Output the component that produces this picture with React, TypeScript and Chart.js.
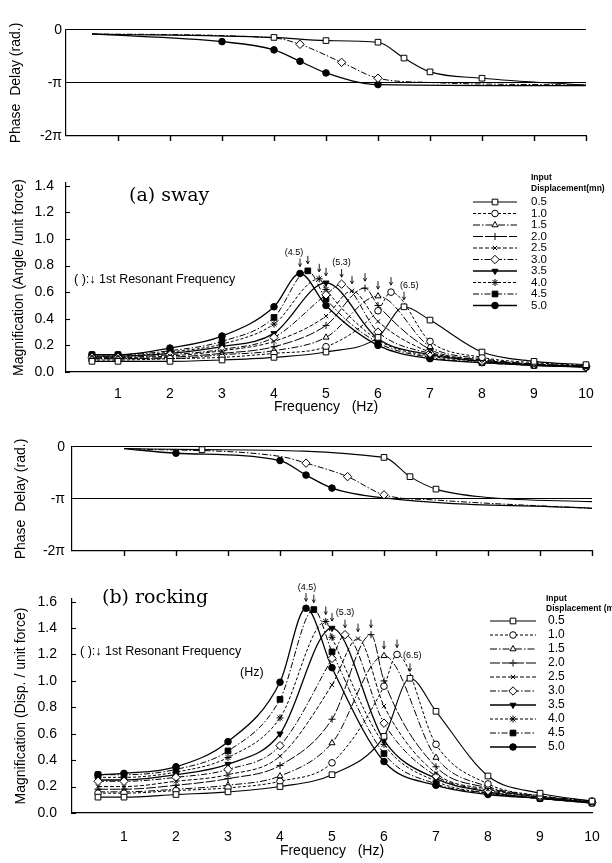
import React, { useEffect, useRef } from 'react';
import { Chart, registerables } from 'chart.js';
import { drawPoint } from 'chart.js/helpers';

Chart.register(...registerables);

const FONT = "'Liberation Sans', 'DejaVu Sans', Arial, sans-serif";
Chart.defaults.font.family = FONT;
Chart.defaults.color = '#000';

// ---------------- data ----------------
const freqGrid = [0.5, 1, 2, 3, 4, 5, 6, 7, 8, 9, 10];
const freqTicks = [1, 2, 3, 4, 5, 6, 7, 8, 9, 10];
const inputDisp = ['0.5', '1.0', '1.5', '2.0', '2.5', '3.0', '3.5', '4.0', '4.5', '5.0'];
const swayMagTicks = [0, 0.2, 0.4, 0.6, 0.8, 1.0, 1.2, 1.4];
const rockMagTicks = [0, 0.2, 0.4, 0.6, 0.8, 1.0, 1.2, 1.4, 1.6];
const phaseTicks = [0, -1, -2];
const phaseTickLabels = ['0', '-π', '-2π'];

// (a) sway magnification, values on freqGrid
const swayMag05 = [0.08, 0.08, 0.08, 0.09, 0.11, 0.15, 0.26, 0.39, 0.15, 0.08, 0.055];
const swayMag10 = [0.09, 0.09, 0.10, 0.11, 0.14, 0.19, 0.46, 0.23, 0.11, 0.07, 0.05];
const swayMag15 = [0.10, 0.10, 0.10, 0.13, 0.16, 0.26, 0.57, 0.19, 0.10, 0.06, 0.045];
const swayMag20 = [0.10, 0.10, 0.11, 0.14, 0.19, 0.35, 0.50, 0.17, 0.09, 0.06, 0.045];
const swayMag25 = [0.11, 0.11, 0.12, 0.16, 0.23, 0.42, 0.38, 0.15, 0.09, 0.055, 0.04];
const swayMag30 = [0.11, 0.11, 0.13, 0.17, 0.26, 0.58, 0.30, 0.14, 0.08, 0.055, 0.04];
const swayMag35 = [0.12, 0.12, 0.14, 0.19, 0.29, 0.67, 0.25, 0.13, 0.08, 0.05, 0.04];
const swayMag40 = [0.12, 0.12, 0.15, 0.21, 0.36, 0.62, 0.24, 0.12, 0.08, 0.05, 0.04];
const swayMag45 = [0.13, 0.13, 0.16, 0.23, 0.41, 0.55, 0.22, 0.11, 0.07, 0.05, 0.04];
const swayMag50 = [0.13, 0.13, 0.18, 0.27, 0.49, 0.50, 0.20, 0.10, 0.07, 0.05, 0.035];
const swayPeakFreq = [6.5, 6.25, 6.0, 5.75, 5.5, 5.3, 5.0, 4.87, 4.65, 4.5];
const swayPeakMag = [0.49, 0.60, 0.57, 0.63, 0.61, 0.66, 0.67, 0.70, 0.76, 0.74];

// (b) rocking magnification, values on freqGrid
const rockMag05 = [0.12, 0.12, 0.14, 0.16, 0.20, 0.29, 0.58, 0.77, 0.28, 0.15, 0.09];
const rockMag10 = [0.15, 0.15, 0.17, 0.19, 0.24, 0.38, 0.96, 0.52, 0.22, 0.13, 0.09];
const rockMag15 = [0.16, 0.16, 0.18, 0.21, 0.28, 0.53, 1.19, 0.42, 0.20, 0.13, 0.09];
const rockMag20 = [0.18, 0.18, 0.21, 0.26, 0.36, 0.71, 1.00, 0.35, 0.19, 0.12, 0.085];
const rockMag25 = [0.20, 0.20, 0.24, 0.29, 0.43, 0.97, 0.81, 0.30, 0.18, 0.12, 0.08];
const rockMag30 = [0.24, 0.24, 0.27, 0.33, 0.51, 1.17, 0.68, 0.28, 0.17, 0.12, 0.08];
const rockMag35 = [0.25, 0.25, 0.29, 0.37, 0.60, 1.40, 0.55, 0.26, 0.16, 0.11, 0.08];
const rockMag40 = [0.27, 0.27, 0.31, 0.42, 0.72, 1.33, 0.52, 0.24, 0.15, 0.11, 0.08];
const rockMag45 = [0.29, 0.29, 0.33, 0.47, 0.86, 1.22, 0.45, 0.22, 0.15, 0.11, 0.075];
const rockMag50 = [0.29, 0.30, 0.35, 0.54, 0.99, 1.10, 0.39, 0.21, 0.14, 0.11, 0.075];
const rockPeakFreq = [6.5, 6.25, 6.0, 5.75, 5.5, 5.25, 5.0, 4.88, 4.65, 4.5];
const rockPeakMag = [1.02, 1.20, 1.19, 1.35, 1.32, 1.35, 1.40, 1.45, 1.54, 1.55];

// phase delay (in units of pi), measured = marker drawn
const swayPhaseFreq05 = [0.5, 4, 5, 6, 6.5, 7, 8, 10];
const swayPhase05 = [-0.075, -0.14, -0.2, -0.23, -0.53, -0.79, -0.91, -1.04];
const swayPhaseMeasured05 = [0, 1, 1, 1, 1, 1, 1, 0];
const swayPhaseFreq30 = [0.5, 4, 4.5, 5.3, 6, 7, 10];
const swayPhase30 = [-0.075, -0.15, -0.27, -0.61, -0.91, -0.99, -1.04];
const swayPhaseMeasured30 = [0, 0, 1, 1, 1, 0, 0];
const swayPhaseFreq50 = [0.5, 3, 4, 4.5, 5, 6, 10];
const swayPhase50 = [-0.075, -0.22, -0.375, -0.59, -0.81, -1.03, -1.05];
const swayPhaseMeasured50 = [0, 1, 1, 1, 1, 1, 0];

const rockPhaseFreq05 = [1, 2.5, 6, 6.5, 7, 8, 10];
const rockPhase05 = [-0.03, -0.05, -0.2, -0.57, -0.81, -0.97, -1.05];
const rockPhaseMeasured05 = [0, 1, 1, 1, 1, 0, 0];
const rockPhaseFreq30 = [1, 4, 4.5, 5.3, 6, 7, 10];
const rockPhase30 = [-0.03, -0.18, -0.31, -0.57, -0.92, -1.02, -1.18];
const rockPhaseMeasured30 = [0, 0, 1, 1, 1, 0, 0];
const rockPhaseFreq50 = [1, 2, 4, 4.5, 5, 6, 10];
const rockPhase50 = [-0.03, -0.12, -0.26, -0.54, -0.79, -0.98, -1.18];
const rockPhaseMeasured50 = [0, 1, 1, 1, 1, 0, 0];

// ---------------- styles ----------------
const seriesPointStyle = ['rect', 'circle', 'triangle', 'cross', 'crossRot', 'rectRot', 'triangle', 'star', 'rect', 'circle'];
const seriesRotation = [0, 0, 0, 0, 0, 0, 180, 0, 0, 0];
const seriesFilled = [false, false, false, false, false, false, true, true, true, true];
const seriesDash: number[][] = [[], [3, 2], [7, 2, 1.5, 2], [10, 2], [4, 2], [6, 2, 1.5, 2], [], [3, 2], [6, 2, 1.5, 2], []];
const seriesWidth = [1.1, 1, 1, 1, 1, 1, 1.3, 1, 1, 1.3];
const seriesRadius = [4, 3.3, 3.5, 3.5, 3, 4.2, 3.5, 3.5, 4, 3.3];

const W = 612;

function seriesStyle(i: number, mask: number[] | null) {
  return {
    borderColor: '#000',
    backgroundColor: '#000',
    borderWidth: seriesWidth[i],
    borderDash: seriesDash[i],
    pointStyle: seriesPointStyle[i],
    pointRotation: seriesRotation[i],
    pointRadius: mask ? (c: any) => (mask[c.dataIndex] ? seriesRadius[i] : 0) : seriesRadius[i],
    pointHoverRadius: 0,
    pointBackgroundColor: seriesFilled[i] ? '#000' : '#fff',
    pointBorderColor: '#000',
    pointBorderWidth: 1,
    cubicInterpolationMode: 'monotone',
    fill: false,
    clip: false,
  };
}

function buildMag(series: number[][], peakF: number[], peakV: number[]) {
  return series.map((vals, i) => {
    const pts = freqGrid.map((f, j) => ({ x: f, y: vals[j] }));
    const k = pts.findIndex((p) => p.x === peakF[i]);
    if (k >= 0) pts[k] = { x: peakF[i], y: peakV[i] };
    else {
      pts.push({ x: peakF[i], y: peakV[i] });
      pts.sort((a, b) => a.x - b.x);
    }
    return { label: inputDisp[i], data: pts, ...seriesStyle(i, null) };
  });
}

function buildPhase(list: { idx: number; f: number[]; v: number[]; m: number[] }[]) {
  return list.map((s) => ({
    label: inputDisp[s.idx],
    data: s.f.map((f, j) => ({ x: f, y: s.v[j] })),
    ...seriesStyle(s.idx, s.m),
  }));
}

function makeDecor(o: any) {
  return {
    id: 'decor',
    afterDraw(chart: any) {
      const ctx = chart.ctx;
      const ca = chart.chartArea;
      ctx.save();
      ctx.fillStyle = '#000';
      ctx.strokeStyle = '#000';
      ctx.setLineDash([]);
      if (o.innerYTicks) {
        const ys = chart.scales.y;
        ctx.lineWidth = 1.1;
        for (const t of ys.ticks) {
          const py = Math.round(ys.getPixelForValue(t.value)) + 0.5;
          ctx.beginPath();
          ctx.moveTo(ca.left, py);
          ctx.lineTo(ca.left + 4, py);
          ctx.stroke();
        }
      }
      if (o.bottomTicks) {
        const xs = chart.scales.x;
        ctx.lineWidth = 1.4;
        freqTicks.forEach((v) => {
          const px = Math.round(xs.getPixelForValue(v)) + 0.5;
          ctx.beginPath();
          ctx.moveTo(px, ca.bottom);
          ctx.lineTo(px, ca.bottom + 5);
          ctx.stroke();
        });
      }
      const peakPt = (i: number) => {
        const d = chart.data.datasets[i].data;
        let k = 0;
        d.forEach((p: any, j: number) => {
          if (p.y > d[k].y) k = j;
        });
        return chart.getDatasetMeta(i).data[k];
      };
      if (o.arrows) {
        ctx.lineWidth = 0.9;
        chart.data.datasets.forEach((_: any, i: number) => {
          const p = peakPt(i);
          const y1 = p.y - o.arrows.top;
          const y2 = p.y - o.arrows.bottom;
          ctx.beginPath();
          ctx.moveTo(p.x, y1);
          ctx.lineTo(p.x, y2);
          ctx.moveTo(p.x - 1.6, y2 - 3);
          ctx.lineTo(p.x, y2);
          ctx.lineTo(p.x + 1.6, y2 - 3);
          ctx.stroke();
        });
      }
      ctx.textBaseline = 'middle';
      (o.peakLabels || []).forEach((l: any) => {
        const p = peakPt(l.series);
        ctx.font = '9px ' + FONT;
        ctx.textAlign = l.align;
        ctx.fillText(l.text, p.x + l.dx, p.y + l.dy);
      });
      (o.texts || []).forEach((t: any) => {
        ctx.font = t.font;
        ctx.textAlign = 'left';
        ctx.fillText(t.text, t.x, t.y);
      });
      if (o.legend) {
        const L = o.legend;
        ctx.textAlign = 'left';
        ctx.font = L.titleFont;
        L.title.forEach((t: string, k: number) => ctx.fillText(t, L.titleX, L.titleY[k]));
        chart.data.datasets.forEach((_: any, i: number) => {
          const y = L.y0 + i * L.dy;
          ctx.strokeStyle = '#000';
          ctx.lineWidth = seriesWidth[i];
          ctx.setLineDash(seriesDash[i]);
          ctx.beginPath();
          ctx.moveTo(L.x0, y);
          ctx.lineTo(L.x1, y);
          ctx.stroke();
          ctx.setLineDash([]);
          ctx.lineWidth = 1;
          ctx.fillStyle = seriesFilled[i] ? '#000' : '#fff';
          drawPoint(ctx, { pointStyle: seriesPointStyle[i], rotation: seriesRotation[i], radius: seriesRadius[i], borderWidth: 1 } as any, L.xm, y);
          ctx.fillStyle = '#000';
          ctx.font = L.font;
          ctx.fillText(inputDisp[i], L.tx, y);
        });
      }
      ctx.restore();
    },
  };
}

type Area = { left: number; top: number; right: number; bottom: number };

function makeConfig(p: {
  H: number;
  area: Area;
  yMin: number;
  yMax: number;
  yTicks: number[];
  yFmt: (v: number) => string;
  yTitle: string;
  yTitlePad: number;
  yLabelPad: number;
  phase: boolean;
  xLabelPad?: number;
  xTitlePad?: number;
  datasets: any[];
  decor: any;
}): any {
  const { H, area } = p;
  return {
    type: 'line',
    data: { datasets: p.datasets },
    options: {
      responsive: false,
      animation: false,
      events: [],
      layout: { padding: { left: 0, top: area.top, right: W - area.right, bottom: 0 } },
      plugins: { legend: { display: false }, tooltip: { enabled: false } },
      scales: {
        x: {
          type: 'linear',
          min: 0,
          max: 10,
          afterBuildTicks: (s: any) => {
            s.ticks = freqTicks.map((v) => ({ value: v }));
          },
          afterFit: (s: any) => {
            s.height = H - area.bottom;
          },
          grid: { display: false },
          border: { display: true, color: '#000', width: 1.2 },
          ticks: p.phase
            ? { display: false }
            : { display: true, padding: p.xLabelPad, color: '#000', font: { size: 14 }, maxRotation: 0, autoSkip: false, callback: (v: any) => String(v) },
          title: p.phase
            ? { display: false }
            : { display: true, text: 'Frequency   (Hz)', color: '#000', font: { size: 14 }, padding: { top: 0, bottom: p.xTitlePad } },
        },
        y: {
          type: 'linear',
          min: p.yMin,
          max: p.yMax,
          afterBuildTicks: (s: any) => {
            s.ticks = p.yTicks.map((v) => ({ value: v }));
          },
          afterFit: (s: any) => {
            s.width = area.left;
          },
          grid: p.phase
            ? {
                display: true,
                drawTicks: false,
                drawOnChartArea: true,
                color: (c: any) => (c.tick && c.tick.value > -1.5 ? '#000' : 'rgba(0,0,0,0)'),
                lineWidth: 1.1,
              }
            : { display: false },
          border: { display: true, color: '#000', width: 1.2 },
          ticks: { padding: p.yLabelPad, color: '#000', font: { size: 14 }, autoSkip: false, callback: (v: any) => p.yFmt(v) },
          title: { display: true, text: p.yTitle, color: '#000', font: { size: 14 }, padding: { top: p.yTitlePad, bottom: 0 } },
        },
      },
    },
    plugins: [makeDecor(p.decor)],
  };
}

const phaseFmt = (v: number) => phaseTickLabels[phaseTicks.indexOf(v)] ?? '';
const magFmt = (v: number) => v.toFixed(1);

export default function App() {
  const r1 = useRef<HTMLCanvasElement>(null);
  const r2 = useRef<HTMLCanvasElement>(null);
  const r3 = useRef<HTMLCanvasElement>(null);
  const r4 = useRef<HTMLCanvasElement>(null);

  useEffect(() => {
    const charts: Chart[] = [];
    charts.push(
      new Chart(
        r1.current!,
        makeConfig({
          H: 150,
          area: { left: 66, top: 30, right: 586, bottom: 136 },
          yMin: -2,
          yMax: 0,
          yTicks: phaseTicks,
          yFmt: phaseFmt,
          yTitle: 'Phase  Delay (rad.)',
          yTitlePad: 7.5,
          yLabelPad: 4,
          phase: true,
          datasets: buildPhase([
            { idx: 0, f: swayPhaseFreq05, v: swayPhase05, m: swayPhaseMeasured05 },
            { idx: 5, f: swayPhaseFreq30, v: swayPhase30, m: swayPhaseMeasured30 },
            { idx: 9, f: swayPhaseFreq50, v: swayPhase50, m: swayPhaseMeasured50 },
          ]),
          decor: { bottomTicks: true },
        })
      )
    );
    charts.push(
      new Chart(
        r2.current!,
        makeConfig({
          H: 270,
          area: { left: 66, top: 33, right: 586, bottom: 222 },
          yMin: 0,
          yMax: 1.42,
          yTicks: swayMagTicks,
          yFmt: magFmt,
          yTitle: 'Magnification (Angle /unit force)',
          yTitlePad: 10.5,
          yLabelPad: 4,
          phase: false,
          xLabelPad: 6,
          xTitlePad: 4,
          datasets: buildMag(
            [swayMag05, swayMag10, swayMag15, swayMag20, swayMag25, swayMag30, swayMag35, swayMag40, swayMag45, swayMag50],
            swayPeakFreq,
            swayPeakMag
          ),
          decor: {
            innerYTicks: true,
            arrows: { top: 15, bottom: 7 },
            peakLabels: [
              { text: '(4.5)', series: 9, dx: -6, dy: -21, align: 'center' },
              { text: '(5.3)', series: 5, dx: 0, dy: -22, align: 'center' },
              { text: '(6.5)', series: 1, dx: 9, dy: -7, align: 'left' },
            ],
            texts: [
              { text: '(a) sway', x: 129, y: 46, font: '19px "DejaVu Serif", "Liberation Serif", serif' },
              { text: '( ):↓ 1st Resonant Frequency', x: 74, y: 130, font: '12.5px ' + FONT },
            ],
            legend: {
              title: ['Input', 'Displacement(mn)'],
              titleFont: 'bold 8.5px ' + FONT,
              titleX: 531,
              titleY: [28, 39],
              x0: 473,
              x1: 517,
              xm: 495,
              tx: 531,
              y0: 52,
              dy: 11.5,
              font: '11.5px ' + FONT,
            },
          },
        })
      )
    );
    charts.push(
      new Chart(
        r3.current!,
        makeConfig({
          H: 150,
          area: { left: 72, top: 27, right: 592, bottom: 131 },
          yMin: -2,
          yMax: 0,
          yTicks: phaseTicks,
          yFmt: phaseFmt,
          yTitle: 'Phase  Delay (rad.)',
          yTitlePad: 12.5,
          yLabelPad: 7,
          phase: true,
          datasets: buildPhase([
            { idx: 0, f: rockPhaseFreq05, v: rockPhase05, m: rockPhaseMeasured05 },
            { idx: 5, f: rockPhaseFreq30, v: rockPhase30, m: rockPhaseMeasured30 },
            { idx: 9, f: rockPhaseFreq50, v: rockPhase50, m: rockPhaseMeasured50 },
          ]),
          decor: { bottomTicks: true },
        })
      )
    );
    charts.push(
      new Chart(
        r4.current!,
        makeConfig({
          H: 293,
          area: { left: 72, top: 29, right: 592, bottom: 243 },
          yMin: 0,
          yMax: 1.62,
          yTicks: rockMagTicks,
          yFmt: magFmt,
          yTitle: 'Magnification (Disp. / unit force)',
          yTitlePad: 12.5,
          yLabelPad: 7,
          phase: false,
          xLabelPad: 8,
          xTitlePad: 3,
          datasets: buildMag(
            [rockMag05, rockMag10, rockMag15, rockMag20, rockMag25, rockMag30, rockMag35, rockMag40, rockMag45, rockMag50],
            rockPeakFreq,
            rockPeakMag
          ),
          decor: {
            innerYTicks: true,
            arrows: { top: 15, bottom: 7 },
            peakLabels: [
              { text: '(4.5)', series: 9, dx: 1, dy: -21, align: 'center' },
              { text: '(5.3)', series: 5, dx: 0, dy: -22, align: 'center' },
              { text: '(6.5)', series: 1, dx: 6, dy: 1, align: 'left' },
            ],
            texts: [
              { text: '(b) rocking', x: 102, y: 28, font: '19px "DejaVu Serif", "Liberation Serif", serif' },
              { text: '( ):↓ 1st Resonant Frequency', x: 80, y: 82, font: '12.5px ' + FONT },
              { text: '(Hz)', x: 240, y: 103, font: '12.5px ' + FONT },
            ],
            legend: {
              title: ['Input', 'Displacement (mm)'],
              titleFont: 'bold 8.5px ' + FONT,
              titleX: 546,
              titleY: [29, 38.5],
              x0: 490,
              x1: 536,
              xm: 513,
              tx: 548,
              y0: 51,
              dy: 14,
              font: '12px ' + FONT,
            },
          },
        })
      )
    );
    return () => charts.forEach((c) => c.destroy());
  }, []);

  const cs = (top: number): React.CSSProperties => ({ position: 'absolute', left: 0, top });
  return (
    <div style={{ position: 'absolute', left: 0, top: 0, width: 612, height: 863, background: '#fff', overflow: 'hidden' }}>
      <canvas ref={r1} width={612} height={150} style={cs(0)} />
      <canvas ref={r2} width={612} height={270} style={cs(150)} />
      <canvas ref={r3} width={612} height={150} style={cs(420)} />
      <canvas ref={r4} width={612} height={293} style={cs(570)} />
    </div>
  );
}
